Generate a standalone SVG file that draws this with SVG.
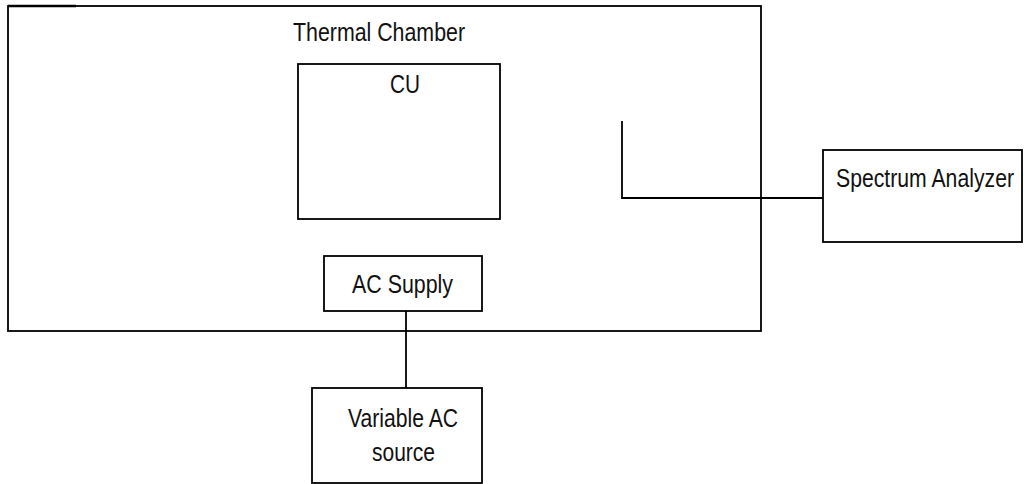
<svg xmlns="http://www.w3.org/2000/svg" width="1024" height="484" viewBox="0 0 1024 484">
<style>
.box{fill:none;stroke:#000;stroke-width:1.8}
.wire{fill:none;stroke:#000;stroke-width:1.8}
.lbl{font-family:"Liberation Sans Narrow","Liberation Sans",Arial,sans-serif;font-size:26px;fill:#111}
</style>
<rect width="1024" height="484" fill="#fff"/>
<g id="thermal-chamber">
<rect class="box" x="8" y="6" width="753" height="325"/>
<line x1="8" y1="6" x2="76" y2="6" stroke="#000" stroke-width="2.6"/>
<text class="lbl" x="293" y="41" textLength="172" lengthAdjust="spacingAndGlyphs">Thermal Chamber</text>
</g>
<g id="cu">
<rect class="box" x="298" y="64" width="202" height="155"/>
<text class="lbl" x="390" y="93" textLength="30" lengthAdjust="spacingAndGlyphs">CU</text>
</g>
<g id="ac-supply">
<rect class="box" x="324" y="256" width="158" height="55"/>
<text class="lbl" x="352" y="293" textLength="101" lengthAdjust="spacingAndGlyphs">AC Supply</text>
</g>
<g id="variable-ac-source">
<rect class="box" x="312" y="388" width="170" height="95"/>
<text class="lbl" x="348" y="427" textLength="110" lengthAdjust="spacingAndGlyphs">Variable AC</text>
<text class="lbl" x="372" y="461" textLength="63" lengthAdjust="spacingAndGlyphs">source</text>
</g>
<g id="spectrum-analyzer">
<rect class="box" x="823" y="150" width="199" height="92"/>
<text class="lbl" x="836" y="187" textLength="178" lengthAdjust="spacingAndGlyphs">Spectrum Analyzer</text>
</g>
<g id="connectors">
<polyline class="wire" points="622,121 622,198 823,198"/>
<line class="wire" x1="406" y1="311" x2="406" y2="388"/>
</g>
</svg>
